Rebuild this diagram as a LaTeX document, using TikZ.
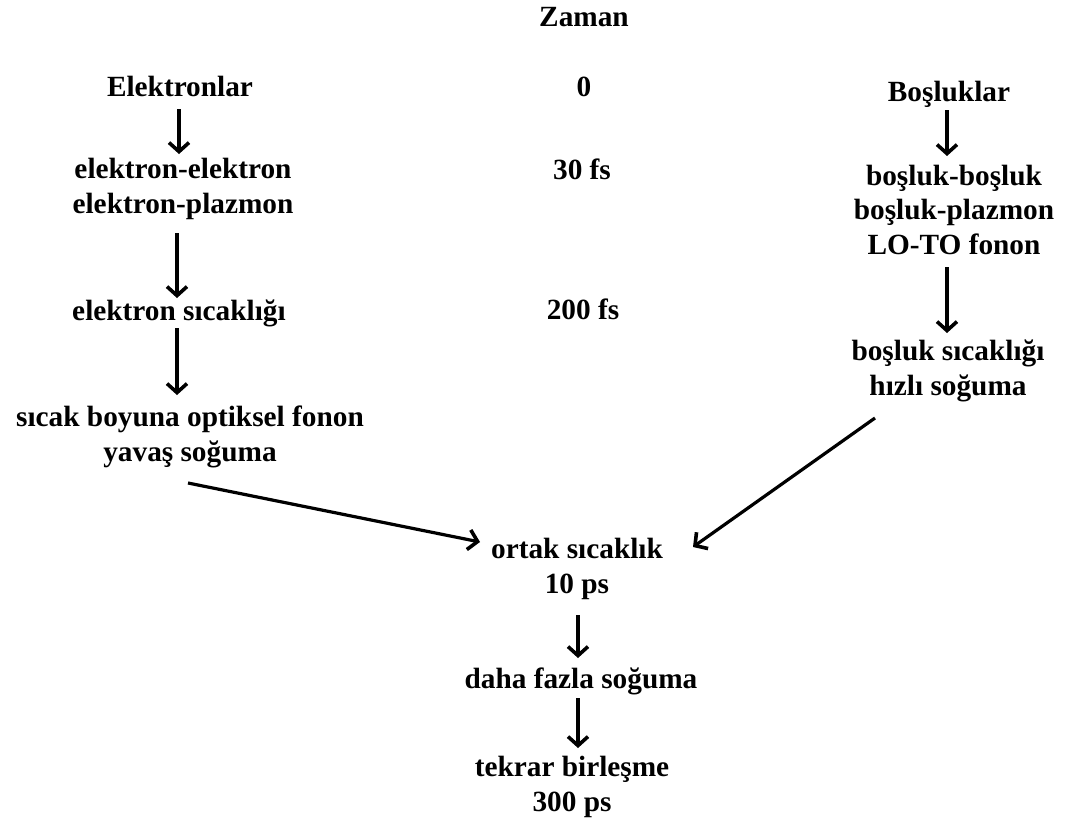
\documentclass[tikz,border=0pt]{standalone}
\usepackage{fontspec}
\setmainfont{Liberation Serif}
\usetikzlibrary{arrows.meta,calc}
\tikzset{
  lbl/.style={anchor=base, inner sep=0pt, align=center, font=\bfseries\fontsize{29.3}{34.5}\selectfont},
  arr/.style={line width=3.2pt, -{Straight Barb[length=9pt,width=20pt,line width=3.6pt]}}
}
\begin{document}
\begin{tikzpicture}[x=1pt,y=-1pt]
\useasboundingbox (0,0) rectangle (1071,822);
% for multi-line nodes the base anchor is the baseline of the last line
\node[lbl] (zaman) at (584,26) {Zaman};
\node[lbl] (t0) at (584,96) {0};
\node[lbl] (elek) at (180,96) {Elektronlar};
\node[lbl] (bos) at (949,101) {Boşluklar};
\node[lbl] (ee) at (183,213) {elektron-elektron\\elektron-plazmon};
\node[lbl] (t30) at (582,179) {30 fs};
\node[lbl] (bb) at (954,254) {boşluk-boşluk\\boşluk-plazmon\\LO-TO fonon};
\node[lbl] (es) at (179,320) {elektron sıcaklığı};
\node[lbl] (t200) at (583,319) {200 fs};
\node[lbl] (bs) at (948,395) {boşluk sıcaklığı\\hızlı soğuma};
\node[lbl] (sb) at (190,461) {sıcak boyuna optiksel fonon\\yavaş soğuma};
\node[lbl] (ortak) at (577,593) {ortak sıcaklık\\10 ps};
\node[lbl] (daha) at (581,688) {daha fazla soğuma};
\node[lbl] (tekrar) at (572,811) {tekrar birleşme\\300 ps};

\draw[arr] ($(elek.base)+(-1,13)$) -- ($(ee.base)+(-4,-59)$);
\draw[arr] ($(ee.base)+(-6,20)$) -- ($(es.base)+(-2,-22)$);
\draw[arr] ($(es.base)+(-2,8)$) -- ($(sb.base)+(-13,-66)$);
\draw[arr] ($(bos.base)+(-2,9)$) -- ($(bb.base)+(-7,-98)$);
\draw[arr] ($(bb.base)+(-7,13)$) -- ($(bs.base)+(-1,-62)$);
\draw[arr] ($(sb.base)+(-2,22)$) -- ($(ortak.base)+(-97,-51)$);
\draw[arr] ($(bs.base)+(-73,23)$) -- ($(ortak.base)+(116,-46)$);
\draw[arr] ($(ortak.base)+(1,22)$) -- ($(daha.base)+(-3,-30)$);
\draw[arr] ($(daha.base)+(-3,10)$) -- ($(tekrar.base)+(6,-63)$);
\end{tikzpicture}
\end{document}
